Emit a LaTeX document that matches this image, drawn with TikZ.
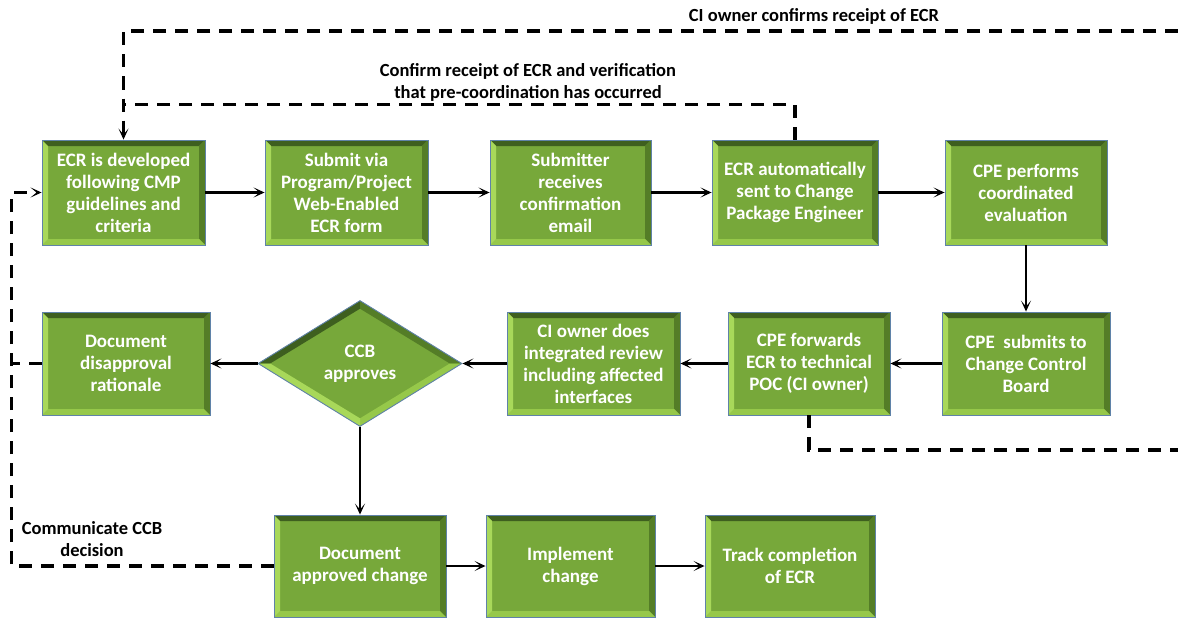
\documentclass[tikz,border=0pt]{standalone}
\usepackage{fontspec}
\setmainfont{Carlito}
\usetikzlibrary{arrows.meta,shapes.geometric,calc}

\definecolor{boxmid}{HTML}{77A83A}
\definecolor{bevtop}{HTML}{3E5F1F}
\definecolor{bevleft}{HTML}{A8D85A}
\definecolor{bevbottom}{HTML}{96C84A}
\definecolor{bevright}{HTML}{547D27}
\definecolor{edgeblue}{HTML}{5F82A8}

\newcommand{\bw}{6pt}

\tikzset{
  bevelbox/.style={rectangle, draw=edgeblue, line width=0.9pt, fill=boxmid,
    text=white, align=center, inner sep=0pt,
    font=\bfseries\fontsize{19}{22}\selectfont,
    path picture={
      \path (path picture bounding box.north west) coordinate (@nw)
            (path picture bounding box.north east) coordinate (@ne)
            (path picture bounding box.south west) coordinate (@sw)
            (path picture bounding box.south east) coordinate (@se);
      \fill[bevtop] (@nw) -- (@ne) -- ([shift={(-\bw,-\bw)}]@ne) -- ([shift={(\bw,-\bw)}]@nw) -- cycle;
      \fill[bevright] (@ne) -- (@se) -- ([shift={(-\bw,\bw)}]@se) -- ([shift={(-\bw,-\bw)}]@ne) -- cycle;
      \fill[bevbottom] (@se) -- (@sw) -- ([shift={(\bw,\bw)}]@sw) -- ([shift={(-\bw,\bw)}]@se) -- cycle;
      \fill[bevleft] (@sw) -- (@nw) -- ([shift={(\bw,-\bw)}]@nw) -- ([shift={(\bw,\bw)}]@sw) -- cycle;
    }},
  bevdiamond/.style={diamond, draw=edgeblue, line width=0.9pt, fill=boxmid,
    text=white, align=center, inner sep=0pt,
    font=\bfseries\fontsize{19}{22}\selectfont,
    path picture={
      \path (path picture bounding box.north) coordinate (@n)
            (path picture bounding box.east) coordinate (@e)
            (path picture bounding box.south) coordinate (@s)
            (path picture bounding box.west) coordinate (@w);
      \fill[bevtop] (@w) -- (@n) -- ([yshift=-8pt]@n) -- ([xshift=12pt]@w) -- cycle;
      \fill[bevright] (@n) -- (@e) -- ([xshift=-12pt]@e) -- ([yshift=-8pt]@n) -- cycle;
      \fill[bevbottom] (@e) -- (@s) -- ([yshift=8pt]@s) -- ([xshift=-12pt]@e) -- cycle;
      \fill[bevleft] (@s) -- (@w) -- ([xshift=12pt]@w) -- ([yshift=8pt]@s) -- cycle;
    }},
  flow/.style={line width=2.6pt, -{Stealth[length=11pt,width=10pt,inset=6pt]}},
  dashline/.style={line width=3.6pt, dash pattern=on 13pt off 9pt},
  dasharrow/.style={dashline, -{Stealth[length=11pt,width=10pt,inset=6pt]}},
  lbl/.style={align=center, font=\bfseries\fontsize{18.5}{22}\selectfont, inner sep=0pt},
}

\begin{document}
\begin{tikzpicture}[x=1pt, y=-1pt]
\useasboundingbox[fill=white] (0,0) rectangle (1178,618);

% first row
\node[bevelbox, minimum width=163pt, minimum height=105pt] (ecr) at (123.5,192.5)
  {ECR is developed\\following CMP\\guidelines and\\criteria};
\node[bevelbox, minimum width=163pt, minimum height=105pt] (submit) at (346.5,192.5)
  {Submit via\\Program/Project\\Web-Enabled\\ECR form};
\node[bevelbox, minimum width=161pt, minimum height=105pt] (recv) at (570.5,192.5)
  {Submitter\\receives\\confirmation\\email};
\node[bevelbox, minimum width=166pt, minimum height=105pt] (auto) at (795,192.5)
  {ECR automatically\\sent to Change\\Package Engineer};
\node[bevelbox, minimum width=162pt, minimum height=105pt] (eval) at (1026,192.5)
  {CPE performs\\coordinated\\evaluation};

% second row
\node[bevelbox, minimum width=168pt, minimum height=103pt] (disapp) at (126,363.5)
  {Document\\disapproval\\rationale};
\node[bevdiamond, minimum width=204pt, minimum height=126pt] (ccb) at (360,363.5)
  {CCB\\approves};
\node[bevelbox, minimum width=173pt, minimum height=103pt] (review) at (593.5,363.5)
  {CI owner does\\integrated review\\including affected\\interfaces};
\node[bevelbox, minimum width=162pt, minimum height=103pt] (fwd) at (809,363.5)
  {CPE forwards\\ECR to technical\\POC (CI owner)};
\node[bevelbox, minimum width=168pt, minimum height=103pt] (toccb) at (1026,363.5)
  {CPE\ \ submits to\\Change Control\\Board};

% third row
\node[bevelbox, minimum width=172pt, minimum height=102pt] (docappr) at (360,566)
  {Document\\approved change};
\node[bevelbox, minimum width=169pt, minimum height=102pt] (impl) at (570.5,566)
  {Implement\\change};
\node[bevelbox, minimum width=170pt, minimum height=102pt] (track) at (790,566)
  {Track completion\\of ECR};

% main flow
\draw[flow] (ecr) -- (submit);
\draw[flow] (submit) -- (recv);
\draw[flow] (recv) -- (auto);
\draw[flow] (auto) -- (eval);
\draw[flow] (eval) -- (toccb);
\draw[flow] (toccb) -- (fwd);
\draw[flow] (fwd) -- (review);
\draw[flow] (review) -- (ccb);
\draw[flow] (ccb) -- (disapp);
\draw[flow] (ccb) -- (docappr);
\draw[flow] (docappr) -- (impl);
\draw[flow] (impl) -- (track);

% feedback loops
\coordinate (rtop) at (1178,31);
\coordinate (rbot) at (1178,450);
\draw[dasharrow] (rtop) -- (ecr.north |- rtop) -- (ecr.north);
\draw[dashline] (auto.north) |- ([yshift=35pt]ecr.north);
\draw[dashline] (fwd.south) |- (rbot);
\draw[dasharrow] (docappr.west) -| ([xshift=-30pt]ecr.west) -- (ecr.west);
\draw[dashline] (disapp.west) -- ([xshift=-30pt]disapp.west);

% loop labels
\node[lbl] (lblowner) at (814,16) {CI owner confirms receipt of ECR};
\node[lbl] (lblconfirm) at (528,82) {Confirm receipt of ECR and verification\\that pre-coordination has occurred};
\node[lbl] (lblccb) at (92,539) {Communicate CCB\\decision};
\end{tikzpicture}
\end{document}
